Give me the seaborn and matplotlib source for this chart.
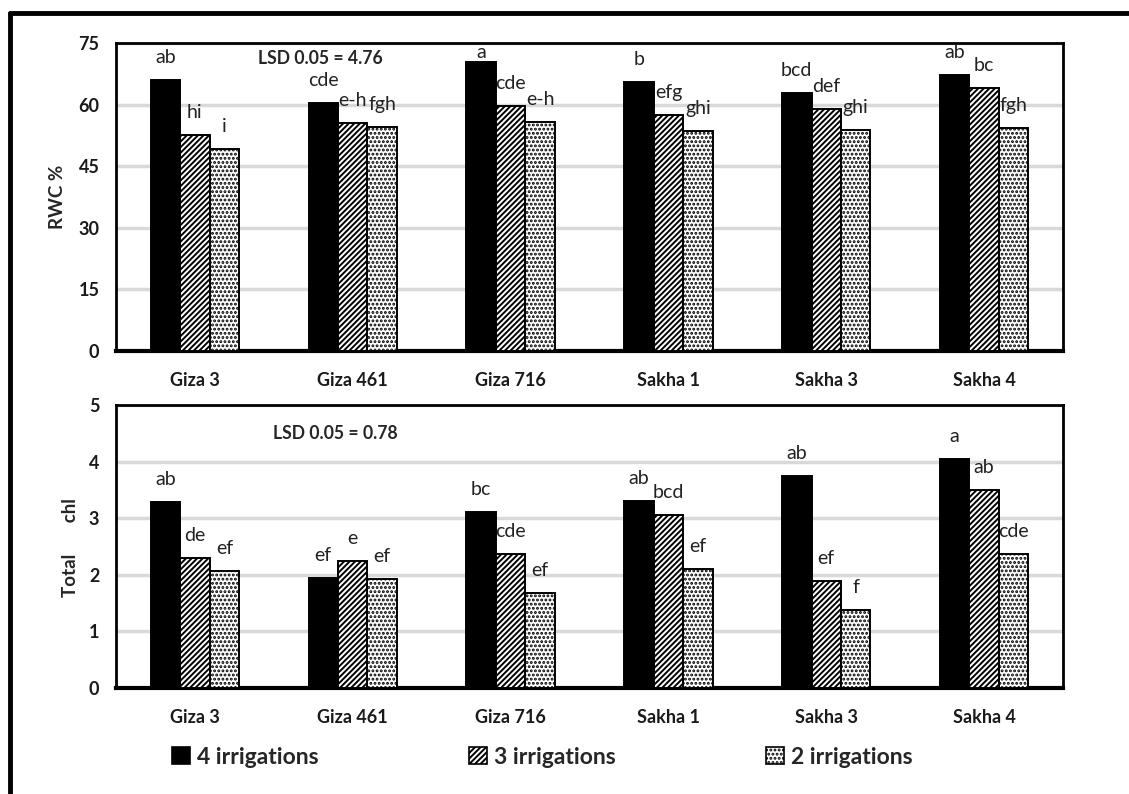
import matplotlib
matplotlib.use("Agg")
import matplotlib.pyplot as plt
import matplotlib.patches as mpatches
from matplotlib.lines import Line2D
import seaborn as sns
import pandas as pd

# ---- data ----
cultivars = ["Giza 3", "Giza 461", "Giza 716", "Sakha 1", "Sakha 3", "Sakha 4"]
treatments = ["4 irrigations", "3 irrigations", "2 irrigations"]

rwc_4 = [66.0, 60.3, 70.4, 65.5, 62.9, 67.3]
rwc_3 = [52.6, 55.6, 59.7, 57.4, 59.0, 64.1]
rwc_2 = [49.3, 54.5, 55.8, 53.6, 53.9, 54.4]
rwc_letters_4 = ["ab", "cde", "a", "b", "bcd", "ab"]
rwc_letters_3 = ["hi", "e-h", "cde", "efg", "def", "bc"]
rwc_letters_2 = ["i", "fgh", "e-h", "ghi", "ghi", "fgh"]
rwc_lsd = "LSD 0.05 = 4.76"

chl_4 = [3.29, 1.95, 3.11, 3.31, 3.75, 4.04]
chl_3 = [2.29, 2.25, 2.36, 3.06, 1.89, 3.49]
chl_2 = [2.07, 1.93, 1.68, 2.11, 1.37, 2.36]
chl_letters_4 = ["ab", "ef", "bc", "ab", "ab", "a"]
chl_letters_3 = ["de", "e", "cde", "bcd", "ef", "ab"]
chl_letters_2 = ["ef", "ef", "ef", "ef", "f", "cde"]
chl_lsd = "LSD 0.05 = 0.78"

rwc_ticks = [0, 15, 30, 45, 60, 75]
chl_ticks = [0, 1, 2, 3, 4, 5]

# ---- styling ----
sns.set_theme(style="white")
plt.rcParams["font.family"] = ["Lato", "DejaVu Sans"]
plt.rcParams["hatch.linewidth"] = 1.4
plt.rcParams["hatch.color"] = "black"

fills = ["black", "white", "white"]
hatches = [None, "//////", "...."]

FIG_W, FIG_H = 1129, 794


def long_table(v4, v3, v2, l4, l3, l2):
    rows = []
    for vals, labs, t in ((v4, l4, treatments[0]), (v3, l3, treatments[1]), (v2, l2, treatments[2])):
        for c, v, lab in zip(cultivars, vals, labs):
            rows.append({"cultivar": c, "treatment": t, "value": v, "letter": lab})
    return pd.DataFrame(rows)


def draw_panel(ax, df, ticks, lsd_txt, lsd_xy, axes_h_px):
    sns.barplot(data=df, x="cultivar", y="value", hue="treatment",
                order=cultivars, hue_order=treatments,
                width=0.56, gap=0, palette=fills, edgecolor="black",
                linewidth=1.4, legend=False, ax=ax, zorder=3)
    ymin, ymax = ticks[0], ticks[-1]
    px_per_unit = axes_h_px / (ymax - ymin)
    for k, cont in enumerate(ax.containers):
        sub = df[df["treatment"] == treatments[k]].set_index("cultivar").loc[cultivars]
        for bar, lab in zip(cont.patches, sub["letter"]):
            bar.set_facecolor(fills[k])
            bar.set_edgecolor("black")
            if hatches[k]:
                bar.set_hatch(hatches[k])
            # letter baseline ~17 px above the bar, but never closer than 15 px to the top
            room_px = (ymax - bar.get_height()) * px_per_unit - 15
            lift_px = min(17, room_px)
            ax.annotate(lab, (bar.get_x() + bar.get_width() / 2, bar.get_height()),
                        xytext=(0, lift_px * 0.72), textcoords="offset points",
                        ha="center", va="baseline", fontsize=14, color="#222222",
                        zorder=5)
    ax.set_ylim(ymin, ymax)
    ax.set_yticks(ticks)
    ax.set_xlim(-0.5, len(cultivars) - 0.5)
    ax.yaxis.grid(True, color="#d9d9d9", linewidth=2.5, zorder=0)
    ax.set_axisbelow(True)
    ax.set_xlabel("")
    ax.set_ylabel("")
    for s in ax.spines.values():
        s.set_visible(True)
        s.set_color("black")
        s.set_linewidth(2.0)
    ax.spines["bottom"].set_linewidth(3.0)
    ax.tick_params(axis="y", direction="in", length=6, width=2, color="black",
                   pad=12, labelsize=13)
    ax.tick_params(axis="x", length=0, pad=15, labelsize=13)
    for t in ax.get_xticklabels() + ax.get_yticklabels():
        t.set_fontweight("bold")
        t.set_color("#1a1a1a")
    ax.text(lsd_xy[0], lsd_xy[1], lsd_txt, transform=ax.transAxes,
            ha="center", va="center", fontsize=12.7, fontweight="bold")


fig = plt.figure(figsize=(FIG_W / 100, FIG_H / 100), dpi=100)
ax_top = fig.add_axes([116 / FIG_W, 1 - 351 / FIG_H, 947 / FIG_W, 308 / FIG_H])
ax_bot = fig.add_axes([116 / FIG_W, 1 - 688 / FIG_H, 947 / FIG_W, 283 / FIG_H])

df_rwc = long_table(rwc_4, rwc_3, rwc_2, rwc_letters_4, rwc_letters_3, rwc_letters_2)
df_chl = long_table(chl_4, chl_3, chl_2, chl_letters_4, chl_letters_3, chl_letters_2)

draw_panel(ax_top, df_rwc, rwc_ticks, rwc_lsd, (0.216, 0.95), 308)
draw_panel(ax_bot, df_chl, chl_ticks, chl_lsd, (0.232, 0.90), 283)

fig.text(58 / FIG_W, 1 - 197 / FIG_H, "RWC %", rotation=90, ha="center", va="center",
         fontsize=13.5, fontweight="bold")
fig.text(70 / FIG_W, 1 - 548 / FIG_H, "Total       chl", rotation=90, ha="center", va="center",
         fontsize=13.5, fontweight="bold")

# legend along the bottom
handles = [mpatches.Patch(facecolor=fills[k], edgecolor="black", hatch=hatches[k],
                          linewidth=1.2, label=treatments[k]) for k in range(3)]
fig.legend(handles=handles, loc="center", bbox_to_anchor=(542 / FIG_W, 1 - 757 / FIG_H),
           ncol=3, frameon=False, prop={"weight": "bold", "size": 16.5},
           handlelength=0.8, handleheight=0.8, handletextpad=0.3, columnspacing=6.55)

# heavy outer frame lines
fig.add_artist(Line2D([10 / FIG_W, 1.0], [1 - 13 / FIG_H, 1 - 13 / FIG_H],
                      transform=fig.transFigure, color="black", linewidth=3.5))
fig.add_artist(Line2D([10 / FIG_W, 10 / FIG_W], [0, 1 - 13 / FIG_H],
                      transform=fig.transFigure, color="black", linewidth=3.5))

fig.savefig("out.png", dpi=100, facecolor="white")
